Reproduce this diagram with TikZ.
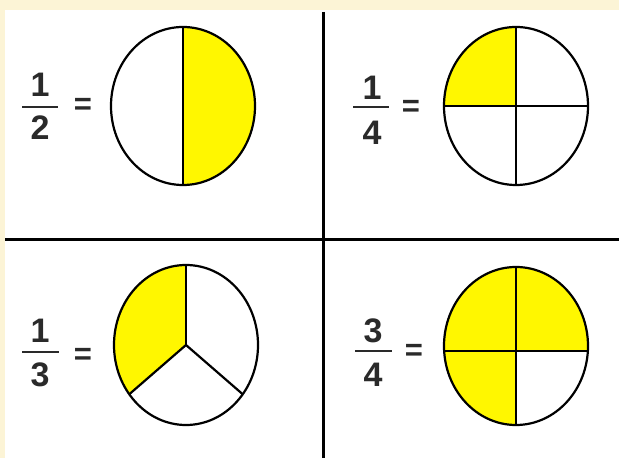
\documentclass[tikz,border=0pt]{standalone}
\usepackage{fontspec}
\setmainfont{Liberation Sans}
\usepackage{xcolor}
\usepackage{tikz}
\usetikzlibrary{positioning}
\definecolor{cream}{HTML}{FCF4D6}
\definecolor{piefill}{HTML}{FFF700}
\definecolor{inkgrey}{HTML}{2A2A2A}
\tikzset{
  digit/.style={inner sep=0pt,text=inkgrey,font=\fontsize{34}{40}\selectfont\bfseries},
  eqsign/.style={inner sep=0pt,text=inkgrey,font=\fontsize{31}{36}\selectfont\bfseries},
  fracbar/.style={inkgrey,line width=2.6pt},
  rim/.style={black,line width=2.2pt},
  gridline/.style={black,line width=3pt}
}
\begin{document}
\begin{tikzpicture}[x=1pt,y=1pt]
    \useasboundingbox (0,0) rectangle (619,458);
    \fill[cream] (0,0) rectangle (619,458);
    \fill[white] (5,0) rectangle (619,448);
    % grid
    \draw[gridline] (323,446) -- (323,0);
    \draw[gridline] (5,218) -- (619,218);

    % one half
    \node[digit] (halfnum) at (40,373) {1};
    \node[digit] (halfden) at (40,330) {2};
    \draw[fracbar] (22,351) -- (58,351);
    \node[eqsign] (halfeq) at (83,352) {=};
    \coordinate (halfc) at (183,352);
    \fill[piefill] (halfc) -- +(90:72 and 79) arc (90:-90:72 and 79) -- cycle;
    \draw[rim] (halfc) ellipse (72 and 79);
    \draw[rim] (halfc) +(90:72 and 79) -- +(-90:72 and 79);

    % one quarter
    \node[digit] (quarternum) at (372,370) {1};
    \node[digit] (quarterden) at (372,325) {4};
    \draw[fracbar] (353,351) -- (389,351);
    \node[eqsign] (quartereq) at (411,350) {=};
    \coordinate (quarterc) at (516,352);
    \fill[piefill] (quarterc) -- +(90:72 and 79) arc (90:180:72 and 79) -- cycle;
    \draw[rim] (quarterc) ellipse (72 and 79);
    \draw[rim] (quarterc) +(90:72 and 79) -- +(-90:72 and 79);
    \draw[rim] (quarterc) +(180:72 and 79) -- +(0:72 and 79);

    % one third
    \node[digit] (thirdnum) at (40,127) {1};
    \node[digit] (thirdden) at (40,83) {3};
    \draw[fracbar] (22,106) -- (59,106);
    \node[eqsign] (thirdeq) at (83,102) {=};
    \coordinate (thirdc) at (186,113);
    \fill[piefill] (thirdc) -- +(90:72 and 80) arc (90:218:72 and 80) -- cycle;
    \draw[rim] (thirdc) ellipse (72 and 80);
    \foreach \a in {90,218,322}
      \draw[rim] (thirdc) -- +(\a:72 and 80);

    % three quarters
    \node[digit] (threenum) at (373,127) {3};
    \node[digit] (threeden) at (373,83) {4};
    \draw[fracbar] (355,107) -- (392,107);
    \node[eqsign] (threeeq) at (414,106) {=};
    \coordinate (threec) at (516,112);
    \fill[piefill] (threec) ellipse (72 and 79);
    \begin{scope}
      \clip (threec) ellipse (72 and 79);
      \fill[white] (516,107) rectangle (600,20);
    \end{scope}
    \draw[rim] (threec) ellipse (72 and 79);
    \draw[rim] (threec) +(90:72 and 79) -- +(-90:72 and 79);
    \draw[rim] (444,107) -- (588,107);
  \end{tikzpicture}
\end{document}
